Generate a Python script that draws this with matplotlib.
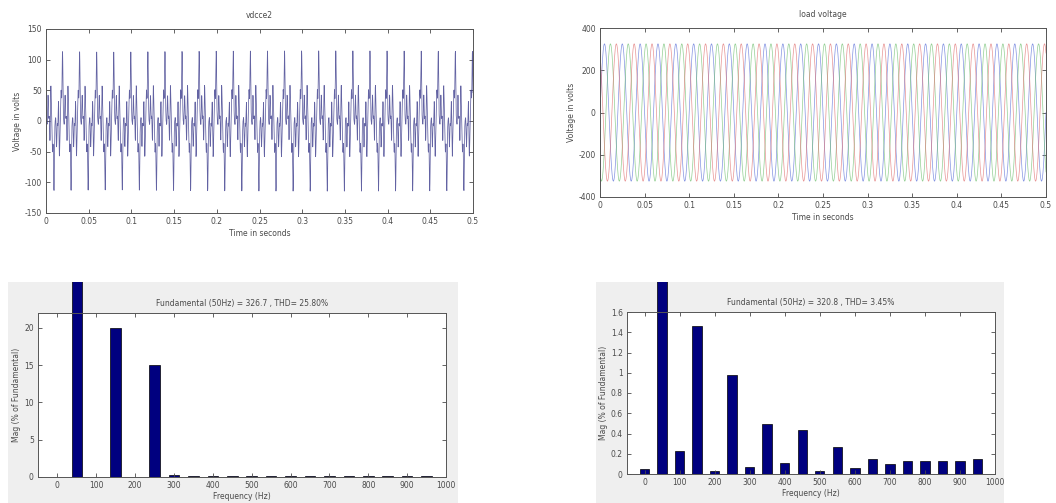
import numpy as np
import matplotlib
matplotlib.use("Agg")
import matplotlib.pyplot as plt
from matplotlib.patches import Rectangle
from matplotlib.ticker import FuncFormatter

# --- data ---
# top-left: dc-side voltage, built from its harmonic content (Hz, peak V, phase rad)
vdc_freqs = [50, 150, 250, 350, 450, 650]
vdc_amps = [38, 30, 25, 20, 15, 12]
vdc_phases = [0.0, 0.9, 2.2, 0.5, 1.7, 2.8]

# top-right: three phase load voltage (peak V, Hz, phase shift deg)
load_peak = 325
load_freq = 50
load_phases = [0, -120, 120]
load_colors = ["#5a6fd8", "#6fbf6f", "#e07070"]

t_end = 0.5
n_samples = 2500

# FFT bars, % of fundamental, harmonics every 50 Hz from 0 to 950 Hz
fft_freqs = list(range(0, 1000, 50))
fft_left = [0.0, 100, 0.05, 20.0, 0.05, 15.0, 0.3, 0.1, 0.08, 0.1,
            0.08, 0.1, 0.08, 0.1, 0.08, 0.1, 0.08, 0.1, 0.08, 0.1]
fft_right = [0.046, 100, 0.228, 1.465, 0.033, 0.98, 0.073, 0.49, 0.11, 0.43,
             0.03, 0.27, 0.056, 0.15, 0.10, 0.13, 0.13, 0.13, 0.13, 0.15]

title_tl = "vdcce2"
title_tr = "load voltage"
title_bl = "Fundamental (50Hz) = 326.7 , THD= 25.80%"
title_br = "Fundamental (50Hz) = 320.8 , THD= 3.45%"

time_ticks = [0, 0.05, 0.1, 0.15, 0.2, 0.25, 0.3, 0.35, 0.4, 0.45, 0.5]
freq_ticks = list(range(0, 1001, 100))

txt = "#4a4a4a"
fs = 5.5
bar_col = "#00007f"

fig = plt.figure(figsize=(10.56, 5.03), dpi=100)
W, H = 1056.0, 503.0


def px_axes(x0, y0, x1, y1):
    # pixel box (top-left origin) -> figure axes
    return fig.add_axes([x0 / W, 1 - y1 / H, (x1 - x0) / W, (y1 - y0) / H])


def style(ax):
    ax.tick_params(direction="in", top=True, right=True, labelsize=fs,
                   colors=txt, length=3, width=0.6, pad=3)
    for s in ax.spines.values():
        s.set_color("#555555")
        s.set_linewidth(0.7)
    ax.xaxis.set_major_formatter(FuncFormatter(lambda v, p: "%g" % v))
    ax.yaxis.set_major_formatter(FuncFormatter(lambda v, p: "%g" % v))


# grey backgrounds behind the two spectrum windows
fig.patches.append(Rectangle((8 / W, 0), 450 / W, 1 - 282 / H, transform=fig.transFigure,
                             facecolor="#efefef", edgecolor="none", zorder=-10))
fig.patches.append(Rectangle((596 / W, 0), 408 / W, 1 - 282 / H, transform=fig.transFigure,
                             facecolor="#efefef", edgecolor="none", zorder=-10))

t = np.linspace(0, t_end, n_samples)

# top-left
ax1 = px_axes(46, 29, 473, 213)
vdc = np.zeros_like(t)
for f, a, ph in zip(vdc_freqs, vdc_amps, vdc_phases):
    vdc += a * np.cos(2 * np.pi * f * t + ph)
ax1.plot(t, vdc, color="#3c3c8c", lw=0.55, alpha=0.8)
ax1.set_xlim(0, 0.5)
ax1.set_ylim(-150, 150)
ax1.set_xticks(time_ticks)
ax1.set_yticks([-150, -100, -50, 0, 50, 100, 150])
style(ax1)
ax1.set_title(title_tl, fontsize=fs, color=txt, pad=8)
ax1.set_xlabel("Time in seconds", fontsize=fs, color=txt, labelpad=2)
ax1.set_ylabel("Voltage in volts", fontsize=fs, color=txt, labelpad=2)

# top-right
ax2 = px_axes(600, 28, 1046, 197)
for ph, c in zip(load_phases, load_colors):
    ax2.plot(t, load_peak * np.sin(2 * np.pi * load_freq * t + np.radians(ph)),
             color=c, lw=0.5, alpha=0.75)
ax2.set_xlim(0, 0.5)
ax2.set_ylim(-400, 400)
ax2.set_xticks(time_ticks)
ax2.set_yticks([-400, -200, 0, 200, 400])
style(ax2)
ax2.set_title(title_tr, fontsize=fs, color=txt, pad=8)
ax2.set_xlabel("Time in seconds", fontsize=fs, color=txt, labelpad=2)
ax2.set_ylabel("Voltage in volts", fontsize=fs, color=txt, labelpad=2)


def spectrum(ax, vals, ymax, yticks, title):
    bars = ax.bar(fft_freqs, vals, width=27, color=bar_col, edgecolor="black", lw=0.5)
    ax.set_xlim(-50, 1000)
    ax.set_ylim(0, ymax)
    ax.set_xticks(freq_ticks)
    ax.set_yticks(yticks)
    style(ax)
    ax.set_title(title, fontsize=fs, color=txt, pad=5)
    ax.set_xlabel("Frequency (Hz)", fontsize=fs, color=txt, labelpad=1)
    ax.set_ylabel("Mag (% of Fundamental)", fontsize=fs, color=txt, labelpad=2)
    ax.set_facecolor("white")
    # fundamental bar runs out of the axes up to the top of the window
    big = bars[1]
    pos = ax.get_position()
    clip = Rectangle((pos.x0, pos.y0), pos.width, (1 - 282 / H) - pos.y0,
                     transform=fig.transFigure)
    big.set_clip_path(clip)


ax3 = px_axes(38, 313, 446, 477)
spectrum(ax3, fft_left, 22, [0, 5, 10, 15, 20], title_bl)

ax4 = px_axes(627, 312, 995, 474)
spectrum(ax4, fft_right, 1.6, [0, 0.2, 0.4, 0.6, 0.8, 1, 1.2, 1.4, 1.6], title_br)

fig.savefig("out.png", dpi=100)
